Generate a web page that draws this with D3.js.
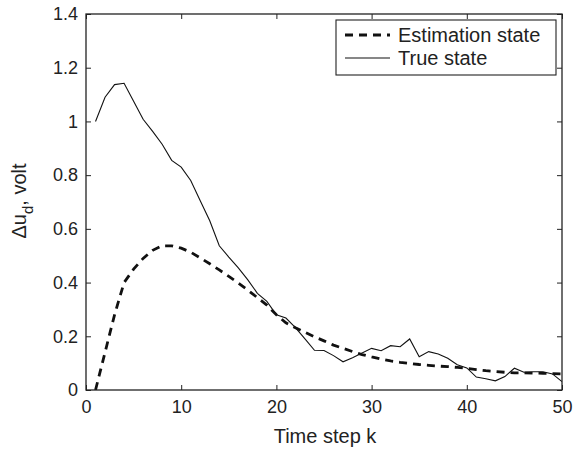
<!DOCTYPE html>
<html>
<head>
<meta charset="utf-8">
<script src="https://cdn.jsdelivr.net/npm/d3@7"></script>
<style>
  html, body { margin: 0; padding: 0; background: #fff; }
  svg { display: block; }
  text { font-family: "Liberation Sans", Arial, Helvetica, sans-serif; fill: #222; }
</style>
</head>
<body>
<svg id="chart" width="577" height="449"></svg>
<script>
// Time steps k = 1..50
const steps = [1,2,3,4,5,6,7,8,9,10,11,12,13,14,15,16,17,18,19,20,21,22,23,24,25,
               26,27,28,29,30,31,32,33,34,35,36,37,38,39,40,41,42,43,44,45,46,47,48,49,50];

// Estimated Δu_d (volt)
const estimation = [0,0.14,0.28,0.40,0.45,0.49,0.52,0.537,0.537,0.528,0.513,0.492,0.47,0.447,0.423,
                    0.398,0.372,0.344,0.316,0.28,0.25,0.232,0.215,0.198,0.183,0.167,0.155,0.143,0.132,0.123,
                    0.115,0.108,0.103,0.099,0.095,0.092,0.089,0.087,0.084,0.081,0.076,0.072,0.069,0.066,0.064,
                    0.064,0.063,0.062,0.061,0.06];

// True Δu_d (volt)
const trueState = [1.0,1.09,1.137,1.142,1.075,1.008,0.963,0.915,0.855,0.83,0.78,0.705,0.63,0.537,0.495,
                   0.455,0.41,0.36,0.33,0.28,0.268,0.232,0.19,0.148,0.147,0.128,0.105,0.12,0.138,0.155,
                   0.146,0.165,0.161,0.19,0.124,0.143,0.134,0.118,0.094,0.082,0.048,0.042,0.034,0.05,0.081,
                   0.066,0.068,0.068,0.06,0.031];

const xTicks = [0,10,20,30,40,50];
const yTicks = [0,0.2,0.4,0.6,0.8,1,1.2,1.4];
const seriesNames = ["Estimation state", "True state"];

const svg = d3.select("#chart");
const plotL = 86, plotR = 562, plotT = 14, plotB = 390;

const x = d3.scaleLinear().domain([0, 50]).range([plotL, plotR]);
const y = d3.scaleLinear().domain([0, 1.4]).range([plotB, plotT]);

const fmt = d => d3.format("~g")(d);

// clip data lines to the plot area
svg.append("defs").append("clipPath").attr("id", "clip")
  .append("rect").attr("x", plotL).attr("y", plotT).attr("width", plotR - plotL).attr("height", plotB - plotT);

const line = vals => d3.line().x((d, i) => x(steps[i])).y(d => y(d))(vals);

svg.append("path").attr("d", line(trueState)).attr("clip-path", "url(#clip)")
  .attr("fill", "none").attr("stroke", "#111").attr("stroke-width", 1.1);

svg.append("path").attr("d", line(estimation)).attr("clip-path", "url(#clip)")
  .attr("fill", "none").attr("stroke", "#111").attr("stroke-width", 2.8)
  .attr("stroke-dasharray", "8,6");

// axes with inward ticks on all four sides
const axisStyle = g => {
  g.selectAll(".domain").remove();
  g.selectAll("line").attr("stroke", "#222").attr("stroke-width", 1);
  g.selectAll("text").style("font-size", "18px").attr("fill", "#222");
};

svg.append("g").attr("transform", `translate(0,${plotB})`)
  .call(d3.axisBottom(x).tickValues(xTicks).tickFormat(fmt).tickSizeInner(-5).tickSizeOuter(0).tickPadding(10))
  .call(axisStyle);
svg.append("g").attr("transform", `translate(0,${plotT})`)
  .call(d3.axisTop(x).tickValues(xTicks).tickFormat("").tickSizeInner(-5).tickSizeOuter(0))
  .call(axisStyle);
svg.append("g").attr("transform", `translate(${plotL},0)`)
  .call(d3.axisLeft(y).tickValues(yTicks).tickFormat(fmt).tickSizeInner(-5).tickSizeOuter(0).tickPadding(8))
  .call(axisStyle);
svg.append("g").attr("transform", `translate(${plotR},0)`)
  .call(d3.axisRight(y).tickValues(yTicks).tickFormat("").tickSizeInner(-5).tickSizeOuter(0))
  .call(axisStyle);

// plot box
svg.append("rect").attr("x", plotL).attr("y", plotT).attr("width", plotR - plotL).attr("height", plotB - plotT)
  .attr("fill", "none").attr("stroke", "#222").attr("stroke-width", 1.3);

// axis labels
svg.append("text").attr("x", (plotL + plotR) / 2 + 1).attr("y", 443)
  .attr("text-anchor", "middle").style("font-size", "20px").text("Time step k");

const yl = svg.append("text").attr("transform", "translate(26,201) rotate(-90)")
  .attr("text-anchor", "middle").style("font-size", "20px");
yl.append("tspan").text("Δu");
yl.append("tspan").attr("dy", 7).style("font-size", "15px").text("d");
yl.append("tspan").attr("dy", -7).text(", volt");

// legend
const lg = svg.append("g");
lg.append("rect").attr("x", 336).attr("y", 20).attr("width", 220).attr("height", 55)
  .attr("fill", "#fff").attr("stroke", "#222").attr("stroke-width", 1.1);
lg.append("line").attr("x1", 345).attr("x2", 390).attr("y1", 35).attr("y2", 35)
  .attr("stroke", "#111").attr("stroke-width", 2.8).attr("stroke-dasharray", "8,6");
lg.append("line").attr("x1", 345).attr("x2", 390).attr("y1", 58).attr("y2", 58)
  .attr("stroke", "#111").attr("stroke-width", 1.1);
lg.append("text").attr("x", 398).attr("y", 42).style("font-size", "20px").text(seriesNames[0]);
lg.append("text").attr("x", 398).attr("y", 65).style("font-size", "20px").text(seriesNames[1]);
</script>
</body>
</html>
